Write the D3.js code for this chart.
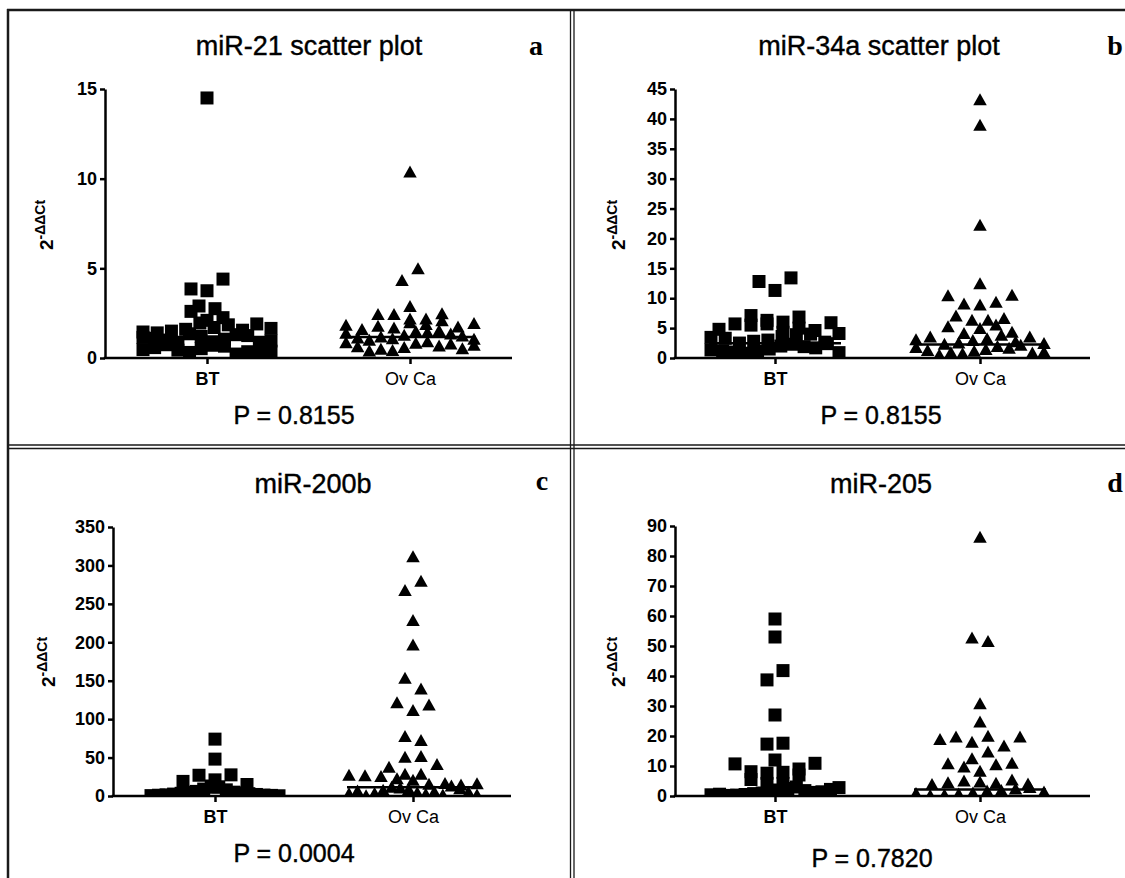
<!DOCTYPE html>
<html>
<head>
<meta charset="utf-8">
<script src="https://cdn.jsdelivr.net/npm/d3@7"></script>
<style>
  html, body { margin: 0; padding: 0; background: #fff; }
  svg { display: block; }
</style>
</head>
<body>
<svg id="fig" width="1125" height="878"></svg>
<script>
// ---- data -----------------------------------------------------------
const categories = ["BT", "Ov Ca"];
const panelTitles = ["miR-21 scatter plot", "miR-34a scatter plot", "miR-200b", "miR-205"];
const panelLetters = ["a", "b", "c", "d"];
const pValueLabels = ["P = 0.8155", "P = 0.8155", "P = 0.0004", "P = 0.7820"];
const yAxisLabel = ["2", "-\u0394\u0394Ct"];

const ticks21 = [0, 5, 10, 15];
const ticks34a = [0, 5, 10, 15, 20, 25, 30, 35, 40, 45];
const ticks200b = [0, 50, 100, 150, 200, 250, 300, 350];
const ticks205 = [0, 10, 20, 30, 40, 50, 60, 70, 80, 90];

// relative expression (2^-ΔΔCt) per sample, in sample order
const miR21_BT = [14.5, 3.75, 3.85, 4.4, 2.9, 2.75, 2.1, 2.6, 2.25,
  1.95, 1.7, 1.6, 1.85, 1.5, 1.55, 1.4, 1.9, 1.45, 1.65,
  1.2, 0.9, 1.35, 1.05, 0.8, 1.3, 1.0, 1.25, 1.1, 0.85, 1.15, 0.95,
  0.52, 0.71, 0.31, 0.66, 0.44, 0.22, 0.74, 0.35, 0.58, 0.28, 0.47, 0.38];
const miR21_OvCa = [10.4, 4.35, 5.0, 2.9, 2.2, 2.45, 2.2, 2.45, 2.5,
  2.0, 1.7, 1.9, 1.8, 2.1, 1.62, 1.75, 1.85, 1.95,
  1.3, 1.5, 1.1, 1.45, 1.2, 1.55, 1.02, 1.36, 1.15, 1.25, 1.41, 1.07,
  0.62, 0.85, 0.45, 0.93, 0.51, 0.7, 0.42, 0.81, 0.66, 0.55, 0.88, 0.74];
const miR21_medians = [1.17, 1.17];

const miR34a_BT = [11.3, 12.8, 13.4, 6.3, 6.0, 7.1, 6.85,
  5.7, 4.3, 5.5, 5.0, 5.7, 4.6, 4.8, 5.9,
  3.0, 3.6, 2.8, 3.9, 2.5, 4.0, 3.3, 2.65, 3.45, 4.1,
  1.5, 2.0, 1.1, 2.3, 0.8, 1.9, 1.0, 1.7, 1.2, 2.4, 1.35, 0.9];
const miR34a_OvCa = [43.3, 39.0, 22.3, 12.5, 8.95, 9.1, 9.4, 10.5, 10.6,
  6.4, 6.4, 7.1, 6.7, 5.0, 4.2, 5.6, 5.3, 4.4,
  3.0, 3.3, 2.6, 3.9, 2.4, 2.8, 3.6, 3.6, 3.15, 2.5,
  1.2, 1.5, 0.8, 2.0, 1.0, 1.7, 0.6, 2.2, 1.35, 0.9, 1.85, 1.1];
const miR34a_medians = [2.45, 2.25];

const miR200b_BT = [74, 48, 21, 27, 27.5, 19, 15,
  13, 12, 9, 8, 6, 5, 4.5, 4, 3.5, 3, 2.5, 2, 1.5, 1.2, 1, 0.8, 0.5, 0.3];
const miR200b_OvCa = [312, 268, 280, 229, 197, 154, 140, 112, 122, 119,
  78, 73, 51, 52, 29, 29, 38, 41.5,
  21, 23, 16, 26, 17, 27, 15, 27.5, 16.5,
  9, 5, 11, 3, 12, 6, 8, 2, 4, 13.5, 1, 10, 7, 5.5, 3.5, 2];
const miR200b_medians = [4.5, 11.5];

const miR205_BT = [59, 53, 38.7, 41.8, 27, 17.3, 17.6, 12,
  7.6, 7.9, 8.1, 9.0, 10.7, 10.9, 4.2, 4.2, 5.5, 7.0,
  1.5, 2.0, 1.0, 2.5, 0.8, 3.0, 0.5, 1.8, 0.3, 1.2, 0.2, 1.4, 0.6, 2.2, 0.4, 2.8];
const miR205_OvCa = [86.4, 52.8, 51.7, 30.9, 24.8,
  18.1, 20.1, 19.8, 16.8, 19.0, 19.8, 12.6, 14.8,
  8.4, 9.8, 10.6, 10.9, 11.1, 4.8, 5.2, 4.4, 4.6, 5.5, 4.0, 4.2,
  1.2, 1.8, 0.8, 2.0, 0.5, 2.5, 0.3, 3.0, 1.0, 1.5];
const miR205_medians = [1.8, 2.2];

// ---- layout ---------------------------------------------------------
const panels = [
  { i: 0, ticks: ticks21, groups: [miR21_BT, miR21_OvCa], medians: miR21_medians,
    f: { ax: 105, x1: 512, yTop: 89, y0: 358, cx: [207, 410], title: [309, 55], letter: [536, 55], pv: [294, 424], ylab: [53, 225] } },
  { i: 1, ticks: ticks34a, groups: [miR34a_BT, miR34a_OvCa], medians: miR34a_medians,
    f: { ax: 675, x1: 1090, yTop: 89, y0: 358, cx: [775, 980], title: [879, 55], letter: [1115, 55], pv: [881, 424], ylab: [625, 225] } },
  { i: 2, ticks: ticks200b, groups: [miR200b_BT, miR200b_OvCa], medians: miR200b_medians,
    f: { ax: 113, x1: 511, yTop: 527, y0: 796, cx: [215, 413], title: [313, 493], letter: [542, 490], pv: [294, 862], ylab: [55, 662] } },
  { i: 3, ticks: ticks205, groups: [miR205_BT, miR205_OvCa], medians: miR205_medians,
    f: { ax: 675, x1: 1090, yTop: 526, y0: 796, cx: [775, 980], title: [881, 493], letter: [1115, 492], pv: [872, 867], ylab: [625, 662] } }
];

const SANS = "'Liberation Sans', Arial, Helvetica, sans-serif";
const SERIF = "'Liberation Serif', 'Times New Roman', serif";
const SQ = 13;                  // square marker side
const TRI_W = 13.5, TRI_H = 12; // triangle marker box
const COL = 16;                 // column spacing of the scatter
const ROW_H = 10;               // points closer than this (px) share a row
const MAX_HALF = 64;            // widest offset from the column centre
const LINE_HALF = 66;           // half length of the median bar

const svg = d3.select("#fig");

// panel frames
const frame = svg.append("g").attr("fill", "none").attr("stroke", "#1a1a1a");
frame.append("line").attr("x1", 7).attr("x2", 1125).attr("y1", 10).attr("y2", 10).attr("stroke-width", 2.5);
frame.append("line").attr("x1", 8).attr("x2", 8).attr("y1", 9).attr("y2", 878).attr("stroke-width", 2.5);
[570.5, 574].forEach(x => frame.append("line").attr("x1", x).attr("x2", x).attr("y1", 10).attr("y2", 878).attr("stroke-width", 1.3));
[445, 448.5].forEach(y => frame.append("line").attr("x1", 8).attr("x2", 1125).attr("y1", y).attr("y2", y).attr("stroke-width", 1.3));

// column scatter: values grouped into rows; inside a row the samples keep
// their order, filling slots from the column centre outwards
function columnLayout(values, y) {
  const pts = values.map((v, idx) => ({ v, idx, py: y(v), dx: 0 })).sort((a, b) => a.v - b.v);
  const rows = [];
  for (const p of pts) {
    const r = rows[rows.length - 1];
    if (r && r[0].py - p.py <= ROW_H) r.push(p); else rows.push([p]);
  }
  // a lone point that would still overlap a small row below joins it
  for (let i = 1; i < rows.length; i++) {
    const prev = rows[i - 1];
    if (rows[i].length === 1 && prev.length <= 4 && prev[prev.length - 1].py - rows[i][0].py < SQ) {
      prev.push(rows[i][0]);
      rows.splice(i, 1);
      i--;
    }
  }
  rows.forEach(r => {
    const n = r.length;
    const s = n > 1 ? Math.min(COL, 2 * MAX_HALF / (n - 1)) : 0;
    const slots = d3.range(n).map(i => (i - (n - 1) / 2) * s)
      .sort((a, b) => Math.abs(a) - Math.abs(b) || a - b);
    r.slice().sort((a, b) => a.idx - b.idx).forEach((p, k) => { p.dx = slots[k]; });
  });
  return pts;
}

const squarePath = `M${-SQ / 2},${-SQ / 2}h${SQ}v${SQ}h${-SQ}Z`;
const trianglePath = `M0,${-TRI_H / 2}L${TRI_W / 2},${TRI_H / 2}L${-TRI_W / 2},${TRI_H / 2}Z`;

panels.forEach(P => {
  const f = P.f;
  const g = svg.append("g");
  const y = d3.scaleLinear().domain([0, d3.max(P.ticks)]).range([f.y0, f.yTop]);
  const x = d3.scalePoint().domain(categories).range(f.cx);

  // markers, clipped at the x axis
  const clipId = "clip" + P.i;
  svg.append("clipPath").attr("id", clipId)
    .append("rect").attr("x", f.ax).attr("y", f.yTop - 30).attr("width", f.x1 - f.ax).attr("height", f.y0 - f.yTop + 30);
  const marks = g.append("g").attr("clip-path", `url(#${clipId})`);
  P.groups.forEach((vals, gi) => {
    const pts = columnLayout(vals, y);
    marks.append("g").selectAll("path").data(pts).join("path")
      .attr("d", gi === 0 ? squarePath : trianglePath)
      .attr("transform", d => `translate(${x(categories[gi]) + d.dx},${d.py})`)
      .attr("fill", "#000");
  });

  // median bars
  g.append("g").selectAll("line").data(P.medians).join("line")
    .attr("x1", (d, i) => x(categories[i]) - LINE_HALF)
    .attr("x2", (d, i) => x(categories[i]) + LINE_HALF)
    .attr("y1", d => y(d)).attr("y2", d => y(d))
    .attr("stroke", "#000").attr("stroke-width", 2.5);

  // y axis
  const ya = g.append("g").attr("transform", `translate(${f.ax},0)`)
    .call(d3.axisLeft(y).tickValues(P.ticks).tickSize(5).tickSizeOuter(0).tickPadding(3));
  ya.select(".domain").attr("stroke", "#000").attr("stroke-width", 2.5);
  ya.selectAll(".tick line").attr("stroke", "#000").attr("stroke-width", 2.5);
  ya.selectAll(".tick text").attr("font-family", SANS).attr("font-size", 18).attr("font-weight", "bold").attr("fill", "#000");

  // x axis
  const xa = g.append("g").attr("transform", `translate(0,${f.y0})`)
    .call(d3.axisBottom(x).tickSize(6).tickPadding(8));
  xa.select(".domain").remove();
  xa.append("line").attr("x1", f.ax - 1.25).attr("x2", f.x1).attr("y1", 0).attr("y2", 0)
    .attr("stroke", "#000").attr("stroke-width", 2.5);
  xa.selectAll(".tick line").attr("stroke", "#000").attr("stroke-width", 2.5);
  xa.selectAll(".tick text").attr("font-family", SANS).attr("font-size", 18).attr("fill", "#000")
    .attr("font-weight", d => d === categories[0] ? "bold" : "normal");

  // y axis title: 2^-ΔΔCt
  const yl = g.append("text")
    .attr("transform", `translate(${f.ylab[0]},${f.ylab[1]}) rotate(-90)`)
    .attr("text-anchor", "middle").attr("font-family", SANS).attr("font-weight", "bold").attr("fill", "#000");
  yl.append("tspan").attr("font-size", 19).text(yAxisLabel[0]);
  yl.append("tspan").attr("font-size", 14).attr("dy", -8).text(yAxisLabel[1]);

  // titles and captions
  g.append("text").attr("x", f.title[0]).attr("y", f.title[1]).attr("text-anchor", "middle")
    .attr("font-family", SANS).attr("font-size", 27).attr("fill", "#000")
    .attr("stroke", "#000").attr("stroke-width", 0.4).text(panelTitles[P.i]);
  g.append("text").attr("x", f.letter[0]).attr("y", f.letter[1]).attr("text-anchor", "middle")
    .attr("font-family", SERIF).attr("font-weight", "bold").attr("font-size", 28).attr("fill", "#000").text(panelLetters[P.i]);
  g.append("text").attr("x", f.pv[0]).attr("y", f.pv[1]).attr("text-anchor", "middle")
    .attr("font-family", SANS).attr("font-size", 25).attr("fill", "#000")
    .attr("stroke", "#000").attr("stroke-width", 0.4).text(pValueLabels[P.i]);
});
</script>
</body>
</html>
